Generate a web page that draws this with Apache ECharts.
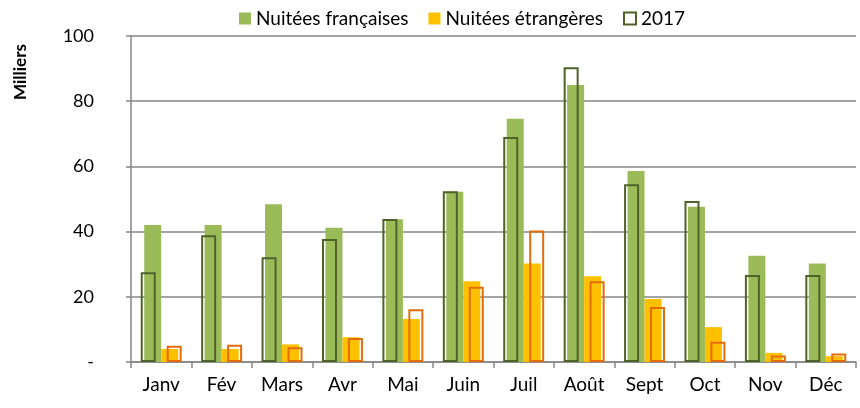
<!DOCTYPE html>
<html>
<head>
<meta charset="utf-8">
<script src="https://cdn.jsdelivr.net/npm/echarts@6/dist/echarts.min.js"></script>
<style>
html,body{margin:0;padding:0;background:#fff;}
#chart{width:860px;height:408px;}
</style>
</head>
<body>
<div id="chart"></div>
<script>
const months = ['Janv','Fév','Mars','Avr','Mai','Juin','Juil','Août','Sept','Oct','Nov','Déc'];
const francaises = [42.0, 42.0, 48.4, 41.2, 43.8, 52.2, 74.6, 85.0, 58.6, 47.6, 32.6, 30.2];
const etrangeres = [4.0, 4.0, 5.4, 7.6, 13.2, 24.8, 30.2, 26.3, 19.3, 10.7, 2.8, 1.8];
const francaises2017 = [27.5, 38.9, 32.1, 37.7, 43.9, 52.4, 69.0, 90.4, 54.5, 49.4, 26.7, 26.7];
const etrangeres2017 = [5.0, 5.3, 4.5, 7.4, 16.2, 23.1, 40.3, 24.8, 16.9, 6.2, 2.0, 2.6];
const yTicks = [0, 20, 40, 60, 80, 100];

const FONT = 'Lato';
const chart = echarts.init(document.getElementById('chart'), null, {renderer: 'canvas'});
const gray = '#868686';
chart.setOption({
  animation: false,
  textStyle: {fontFamily: FONT},
  grid: {left: 131, right: 4, top: 36, bottom: 46, containLabel: false},
  legend: {
    top: 4, left: 234,
    itemWidth: 12, itemHeight: 12, itemGap: 20,
    textStyle: {fontFamily: FONT, fontSize: 19, color: '#000'},
    data: [
      {name: 'Nuitées françaises', icon: 'rect'},
      {name: 'Nuitées étrangères', icon: 'rect'},
      {name: '2017', icon: 'rect'}
    ]
  },
  graphic: [{
    type: 'text', x: 21, y: 72, rotation: Math.PI / 2,
    style: {text: 'Milliers', fontFamily: FONT, fontSize: 17, fontWeight: 'bold', fill: '#000',
            align: 'center', verticalAlign: 'middle'}
  }],
  xAxis: [{
    type: 'category', data: months,
    axisLine: {lineStyle: {color: gray, width: 1.5}},
    axisTick: {show: true, length: 6, lineStyle: {color: gray, width: 1.5}},
    axisLabel: {fontFamily: FONT, fontSize: 19, color: '#000', margin: 13}
  }, {
    type: 'category', data: months, show: false
  }],
  yAxis: {
    type: 'value', min: 0, max: 100, interval: 20,
    axisLine: {show: true, lineStyle: {color: gray, width: 1.5}},
    axisTick: {show: true, length: 5, lineStyle: {color: gray, width: 1.5}},
    splitLine: {lineStyle: {color: gray, width: 1.5}},
    axisLabel: {
      fontFamily: FONT, fontSize: 18, color: '#000', margin: 37,
      formatter: v => (v === 0 ? '-' : String(v))
    }
  },
  series: [
    {name: 'Nuitées françaises', type: 'bar', xAxisIndex: 0, data: francaises, barWidth: 17, barGap: '0%',
     itemStyle: {color: '#9BBB59'}, z: 1},
    {name: 'Nuitées étrangères', type: 'bar', xAxisIndex: 0, data: etrangeres, barWidth: 17, barGap: '0%',
     itemStyle: {color: '#FFC000'}, z: 1},
    {name: '2017', type: 'bar', xAxisIndex: 1, data: francaises2017, barWidth: 15, barGap: '73%',
     itemStyle: {color: 'rgba(0,0,0,0)', borderColor: '#4F6228', borderWidth: 2}, z: 3},
    {name: '2017', type: 'bar', xAxisIndex: 1, data: etrangeres2017, barWidth: 15, barGap: '73%',
     itemStyle: {color: 'rgba(0,0,0,0)', borderColor: '#E46C0A', borderWidth: 2}, z: 3}
  ]
});
</script>
</body>
</html>
